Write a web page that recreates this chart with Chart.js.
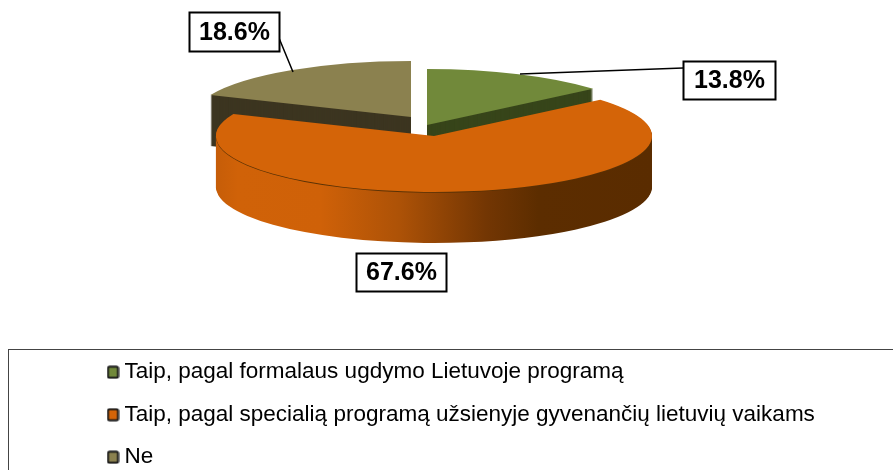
<!DOCTYPE html>
<html><head><meta charset="utf-8">
<style>html,body{margin:0;padding:0;background:#fff;overflow:hidden}canvas{display:block}</style>
<script src="https://cdn.jsdelivr.net/npm/chart.js@4/dist/chart.umd.min.js"></script>
</head><body><canvas id="c" width="893" height="470"></canvas>
<script>
const categories = ['Taip, pagal formalaus ugdymo Lietuvoje programą','Taip, pagal specialią programą užsienyje gyvenančių lietuvių vaikams','Ne'];
const shareValues = [13.8, 67.6, 18.6];
const percentLabels = ['13.8%', '67.6%', '18.6%'];
const faceColors = ['#71893a', '#d46408', '#8b814f'];
const wallColors = ['#37451a', null, '#3c3520'];

const RADIUS = 218, SQUASH = 56/218, DEPTH = 51;
const centers = [[427,125],[434,136],[411,117]];
const boxes = [[683.5,61.5,92,38],[356.5,253.5,90,38],[189.5,12.5,90,39]];
const leaders = [[683,68,520,74],null,[279,38,293,72]];

function marker(color){
  const m = document.createElement('canvas'); m.width = 13; m.height = 14;
  const g = m.getContext('2d');
  g.fillStyle = color; g.strokeStyle = '#1a1a1a'; g.lineWidth = 2;
  g.beginPath(); g.roundRect(1.5,1.5,10,11,1.5); g.fill(); g.stroke();
  return m;
}

const pie3d = {
  id:'pie3d',
  beforeDraw(chart){
    const c = chart.ctx;
    c.save(); c.strokeStyle = '#444'; c.lineWidth = 1;
    c.strokeRect(8.5,349.5,900,140); c.restore();
  },
  afterLayout(chart){
    const l = chart.legend;
    l.left = 92.75; l.top = 341; l.right = 893; l.bottom = 520; l.width = 800; l.height = 180;
  },
  beforeDatasetsDraw(chart){
    const c = chart.ctx, arcs = chart.getDatasetMeta(0).data;
    const paint = (i, dy, color) => {
      const a = arcs[i];
      const proxy = Object.create(a, {options:{value:Object.assign({}, a.options, {backgroundColor:color, borderWidth:0}), writable:true}});
      c.save();
      c.translate(centers[i][0], centers[i][1] + dy);
      c.scale(1, SQUASH);
      c.translate(-a.x, -a.y);
      proxy.draw(c);
      c.restore();
    };
    const ox = centers[1][0] - arcs[1].x;
    const grad = c.createLinearGradient(216-ox,0,652-ox,0);
    grad.addColorStop(0,'#c65d08'); grad.addColorStop(0.05,'#d06208'); grad.addColorStop(0.24,'#cf6108');
    grad.addColorStop(0.42,'#ad5207'); grad.addColorStop(0.62,'#733603'); grad.addColorStop(0.74,'#5c2d00'); grad.addColorStop(1,'#5a2c00');
    [2,0].forEach(i => {
      for(let d = DEPTH; d > 0; d -= 1) paint(i, d, wallColors[i]);
      paint(i, 0, faceColors[i]);
    });
    for(let d = DEPTH; d > 0; d -= 1) paint(1, d, grad);
    paint(1, 0.8, '#5a3206');
    paint(1, 0, faceColors[1]);
    return false;
  },
  afterDraw(chart){
    const c = chart.ctx;
    c.save();
    c.strokeStyle = '#000'; c.lineWidth = 1.5;
    leaders.forEach(p => { if(!p) return; c.beginPath(); c.moveTo(p[0],p[1]); c.lineTo(p[2],p[3]); c.stroke(); });
    c.font = 'bold 25px "Liberation Sans", Arial, sans-serif';
    c.textAlign = 'center'; c.textBaseline = 'middle';
    percentLabels.forEach((t,i) => {
      const b = boxes[i];
      c.fillStyle = '#fff'; c.fillRect(b[0],b[1],b[2],b[3]);
      c.lineWidth = 2; c.strokeRect(b[0],b[1],b[2],b[3]);
      c.fillStyle = '#000'; c.fillText(t, b[0]+b[2]/2, b[1]+b[3]/2+1);
    });
    c.restore();
  }
};

new Chart(document.getElementById('c'), {
  type:'pie',
  data:{labels:categories, datasets:[{data:shareValues, backgroundColor:faceColors, borderWidth:0}]},
  options:{
    responsive:false, animation:false, radius:RADIUS,
    layout:{padding:0},
    events:[],
    plugins:{
      tooltip:{enabled:false},
      legend:{
        position:'chartArea', align:'start',
        labels:{
          color:'#000', padding:20, usePointStyle:true, pointStyleWidth:0.5, boxHeight:14,
          font:{family:'"Liberation Sans", Arial, sans-serif', size:22.5},
          generateLabels:()=>categories.map((t,i)=>({text:t, fillStyle:faceColors[i], strokeStyle:'#1a1a1a', lineWidth:0, pointStyle:marker(faceColors[i]), hidden:false, index:i}))
        }
      }
    }
  },
  plugins:[pie3d]
});
</script></body></html>
